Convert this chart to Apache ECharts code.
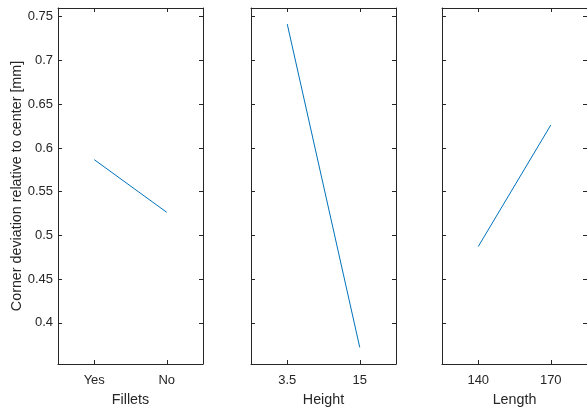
<!DOCTYPE html>
<html>
<head>
<meta charset="utf-8">
<style>
  html, body { margin: 0; padding: 0; background: #fff; }
  #chart { width: 587px; height: 412px; }
</style>
<script src="https://cdn.jsdelivr.net/npm/echarts@6/dist/echarts.min.js"></script>
</head>
<body>
<div id="chart"></div>
<script>
// Main effects: mean corner deviation for each factor level
const filletLevels = ['Yes', 'No'];
const filletMeans = [0.5866, 0.5264];
const heightLevels = ['3.5', '15'];
const heightMeans = [0.7416, 0.372];
const lengthLevels = ['140', '170'];
const lengthMeans = [0.4873, 0.6261];
const factorNames = ['Fillets', 'Height', 'Length'];
const yTicks = [0.4, 0.45, 0.5, 0.55, 0.6, 0.65, 0.7, 0.75];
const yLabel = 'Corner deviation relative to center [mm]';

const Y_MIN = 0.353, Y_MAX = 0.760;
const INK = '#262626';
const FONT = 'Liberation Sans, Arial, Helvetica, sans-serif';

const panels = [
  { levels: filletLevels, means: filletMeans, left: 58 },
  { levels: heightLevels, means: heightMeans, left: 251 },
  { levels: lengthLevels, means: lengthMeans, left: 442 }
];

const grid = [], xAxis = [], yAxis = [], series = [];
panels.forEach((p, i) => {
  grid.push({ left: p.left, top: 8, width: 145, height: 361, containLabel: false });
  const tick = { show: true, inside: true, length: 4, alignWithLabel: true, interval: 0,
                 lineStyle: { color: INK, width: 1 } };
  const line = { show: true, lineStyle: { color: INK, width: 1 } };
  xAxis.push({
    gridIndex: i, type: 'category', data: p.levels, boundaryGap: true, position: 'bottom',
    axisLine: line, axisTick: tick,
    axisLabel: { color: INK, fontSize: 13, fontFamily: FONT, margin: 10, interval: 0 },
    splitLine: { show: false },
    name: factorNames[i], nameLocation: 'middle', nameGap: 29,
    nameTextStyle: { color: INK, fontSize: 14.3, fontFamily: FONT }
  });
  xAxis.push({
    gridIndex: i, type: 'category', data: p.levels, boundaryGap: true, position: 'top',
    axisLine: line, axisTick: tick, axisLabel: { show: false }, splitLine: { show: false }
  });
  const yTick = { show: true, inside: true, length: 4, customValues: yTicks,
                  lineStyle: { color: INK, width: 1 } };
  yAxis.push({
    gridIndex: i, type: 'value', min: Y_MIN, max: Y_MAX, position: 'left',
    axisLine: line, axisTick: yTick, splitLine: { show: false },
    axisLabel: i === 0
      ? { show: true, customValues: yTicks, color: INK, fontSize: 13, fontFamily: FONT, margin: 5 }
      : { show: false },
    name: i === 0 ? yLabel : '', nameLocation: 'middle', nameGap: 34,
    nameTextStyle: { color: INK, fontSize: 14.3, fontFamily: FONT }
  });
  yAxis.push({
    gridIndex: i, type: 'value', min: Y_MIN, max: Y_MAX, position: 'right',
    axisLine: line, axisTick: yTick, splitLine: { show: false }, axisLabel: { show: false }
  });
  series.push({
    type: 'line', xAxisIndex: i * 2, yAxisIndex: i * 2, data: p.means,
    symbol: 'none', silent: true, animation: false,
    lineStyle: { color: '#0072BD', width: 1 }
  });
});

const chart = echarts.init(document.getElementById('chart'), null, { renderer: 'canvas' });
chart.setOption({ animation: false, backgroundColor: '#fff', grid, xAxis, yAxis, series });
</script>
</body>
</html>
